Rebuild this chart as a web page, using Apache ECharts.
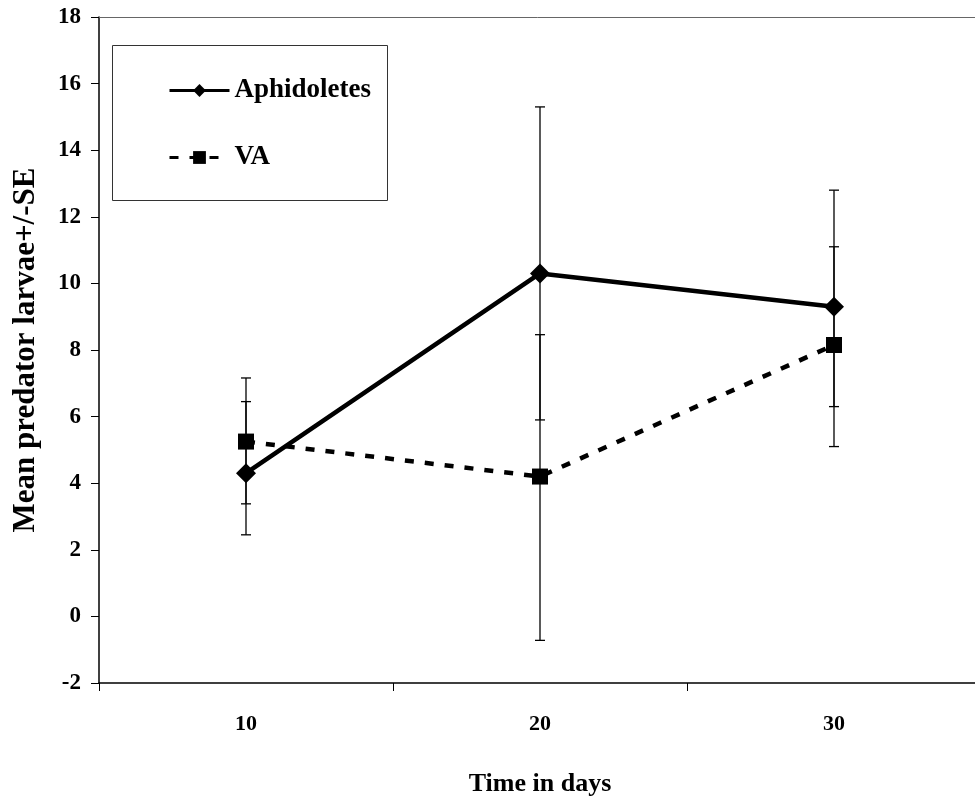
<!DOCTYPE html>
<html>
<head>
<meta charset="utf-8">
<script src="https://cdn.jsdelivr.net/npm/echarts@6/dist/echarts.min.js"></script>
<style>
  html, body { margin: 0; padding: 0; background: #fff; }
  #chart { width: 975px; height: 801px; }
</style>
</head>
<body>
<div id="chart"></div>
<script>
// days
var categories = ['10', '20', '30']
// means
var aphidValues = [4.3, 10.3, 9.3]
var vaValues = [5.25, 4.2, 8.15]
// error bar ends (low / high)
var aphidLow = [2.45, 5.9, 6.3]
var aphidHigh = [6.45, 15.3, 12.8]
var vaLow = [3.38, -0.72, 5.1]
var vaHigh = [7.16, 8.46, 11.1]

var font = 'Liberation Serif'

function errorSeries(name, low, high) {
  return {
    name: name + ' SE',
    type: 'custom',
    z: 1,
    silent: true,
    data: categories.map(function (c, i) { return [i, low[i], high[i]] }),
    renderItem: function (params, api) {
      var top = api.coord([api.value(0), api.value(2)])
      var bot = api.coord([api.value(0), api.value(1)])
      var half = 5
      var st = { stroke: '#000', lineWidth: 1.3 }
      return {
        type: 'group',
        children: [
          { type: 'line', shape: { x1: top[0], y1: top[1], x2: bot[0], y2: bot[1] }, style: st },
          { type: 'line', shape: { x1: top[0] - half, y1: top[1], x2: top[0] + half, y2: top[1] }, style: st },
          { type: 'line', shape: { x1: bot[0] - half, y1: bot[1], x2: bot[0] + half, y2: bot[1] }, style: st },
        ],
      }
    },
  }
}

var myChart = echarts.init(document.getElementById('chart'))
var option = {
  animation: false,
  grid: {
    left: 99,
    top: 17,
    width: 882,
    height: 666,
    outerBoundsMode: 'none',
  },
  graphic: [
    {
      type: 'rect',
      left: 112,
      top: 45,
      shape: { width: 275, height: 155 },
      style: { fill: '#fff', stroke: '#333', lineWidth: 1 },
      z: 10,
    },
  ],
  legend: {
    orient: 'vertical',
    left: 163,
    top: 72,
    itemWidth: 60,
    itemHeight: 16,
    itemGap: 40,
    z: 20,
    lineStyle: { width: 3 },
    textStyle: { fontFamily: font, fontWeight: 'bold', fontSize: 27, color: '#000' },
    data: ['Aphidoletes', 'VA'],
  },
  xAxis: [
    {
      type: 'category',
      data: categories,
      name: 'Time in days',
      nameLocation: 'middle',
      nameGap: 88,
      nameTextStyle: { fontFamily: font, fontWeight: 'bold', fontSize: 26, color: '#000' },
      axisLine: { onZero: false, lineStyle: { color: '#000', width: 1.5 } },
      axisTick: { show: true, interval: 0, length: 8, lineStyle: { color: '#000', width: 1 } },
      axisLabel: { margin: 30, fontFamily: font, fontWeight: 'bold', fontSize: 22, color: '#000' },
    },
    {
      type: 'category',
      position: 'top',
      data: categories,
      axisLine: { onZero: false, lineStyle: { color: '#666', width: 1 } },
      axisTick: { show: false },
      axisLabel: { show: false },
    },
  ],
  yAxis: {
    type: 'value',
    min: -2,
    max: 18,
    interval: 2,
    name: 'Mean predator larvae+/-SE',
    nameLocation: 'middle',
    nameGap: 58,
    nameTextStyle: { fontFamily: font, fontWeight: 'bold', fontSize: 31, color: '#000' },
    splitLine: { show: false },
    axisLine: { show: true, onZero: false, lineStyle: { color: '#000', width: 1.5 } },
    axisTick: { show: true, length: 8, lineStyle: { color: '#000' } },
    axisLabel: { margin: 18, fontFamily: font, fontWeight: 'bold', fontSize: 23, color: '#000' },
  },
  series: [
    errorSeries('Aphidoletes', aphidLow, aphidHigh),
    errorSeries('VA', vaLow, vaHigh),
    {
      name: 'Aphidoletes',
      type: 'line',
      z: 3,
      data: aphidValues,
      symbol: 'diamond',
      symbolSize: 20,
      itemStyle: { color: '#000' },
      lineStyle: { color: '#000', width: 4.5 },
    },
    {
      name: 'VA',
      type: 'line',
      z: 3,
      data: vaValues,
      symbol: 'rect',
      symbolSize: 16,
      itemStyle: { color: '#000' },
      lineStyle: { color: '#000', width: 4.5, type: [9, 11] },
    },
  ],
}
myChart.setOption(option, true)
</script>
</body>
</html>
